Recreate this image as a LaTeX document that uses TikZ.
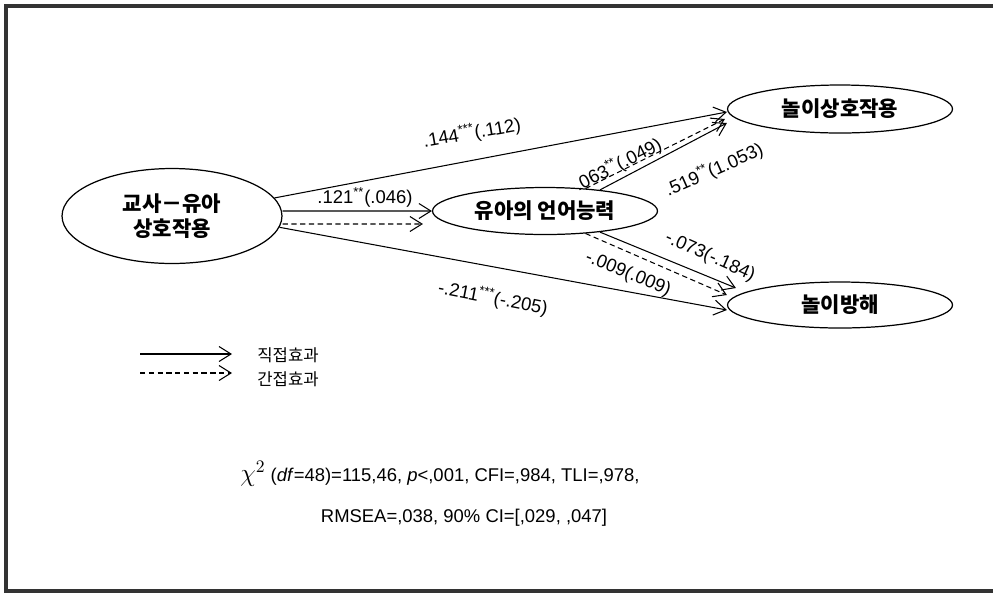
\documentclass[tikz,border=0pt]{standalone}
\usepackage{fontspec}
\setmainfont{Liberation Sans}
\newfontfamily\kor{Noto Sans CJK KR}
\usetikzlibrary{arrows.meta,shapes.geometric}

\tikzset{
  var/.style={ellipse, draw, line width=0.7pt, inner sep=0pt, align=center,
    font=\kor\bfseries\fontsize{12}{14.5}\selectfont},
  coef/.style={font=\fontsize{10.5}{12}\selectfont, inner sep=1pt},
  legend/.style={font=\kor\fontsize{9.5}{11}\selectfont, inner sep=0pt},
  stat/.style={font=\fontsize{10.5}{12}\selectfont, inner sep=1pt},
  direct/.style={-{Straight Barb[length=2.4mm,width=3mm]}, line width=0.6pt},
  indirect/.style={direct, dash pattern=on 3pt off 2pt},
}

\begin{document}
\begin{tikzpicture}[x=0.02cm, y=-0.02cm]
\useasboundingbox (0,0) rectangle (993,593);

% Frame
\draw[line width=2pt, black!80] (993,6) -- (6,6) -- (6,591) -- (993,591);

% Variables
\node[var, minimum width=4.4cm, minimum height=1.9cm] (tea) at (172,216) {교사－유아\\상호작용};
\node[var, minimum width=4.5cm, minimum height=0.94cm] (lang) at (545,211) {유아의 언어능력};
\node[var, minimum width=4.5cm, minimum height=0.96cm] (pint) at (840,109) {놀이상호작용};
\node[var, minimum width=4.5cm, minimum height=0.92cm] (pdis) at (840,305) {놀이방해};

% Paths from teacher-child interaction
\draw[direct] (tea.10) -- ([yshift=-0.06cm]pint.west);
\draw[direct] ([yshift=0.1cm]tea.east) -- (lang.west);
\draw[indirect] ([yshift=-0.16cm]tea.east) -- ([xshift=-0.18cm,yshift=-0.26cm]lang.west);
\draw[direct] (tea.-6) -- ([yshift=-0.1cm]pdis.west);

% Paths from language ability
\draw[indirect] (lang.29) -- ([xshift=-0.04cm,yshift=-0.2cm]pint.west);
\draw[direct] (lang.21) -- ([yshift=-0.28cm]pint.west);
\draw[direct] (lang.-21) -- ([xshift=0.18cm,yshift=0.34cm]pdis.west);
\draw[indirect] (lang.-29) -- ([yshift=0.2cm]pdis.west);

% Coefficients
\node[coef, rotate=10] (c1) at (472,133) {.144\textsuperscript{***}(.112)};
\node[coef] (c2) at (365,197) {.121\textsuperscript{**}(.046)};
\node[coef, rotate=27] (c3) at (618,165) {.063\textsuperscript{**}(.049)};
\node[coef, rotate=24] (c4) at (714,170) {.519\textsuperscript{**}(1.053)};
\node[coef, rotate=-24] (c5) at (710,257) {-.073(-.184)};
\node[coef, rotate=-22] (c6) at (628,274) {-.009(.009)};
\node[coef, rotate=-11] (c7) at (493,298) {-.211\textsuperscript{***}(-.205)};

% Legend
\coordinate (l1a) at (140,354);
\coordinate (l1b) at (232,354);
\coordinate (l2a) at (140,373);
\coordinate (l2b) at (232,373);
\draw[direct] (l1a) -- (l1b);
\draw[indirect] (l2a) -- (l2b);
\node[legend, anchor=west] (ldir) at (257,355) {직접효과};
\node[legend, anchor=west] (lind) at (257,379) {간접효과};

% Fit indices
\node[stat] (fit1) at (440,474) {{\Large$\chi^{2}$} (\textit{df}=48)=115,46, \textit{p}<,001, CFI=,984, TLI=,978,};
\node[stat] (fit2) at (464,518) {RMSEA=,038, 90\% CI=[,029, ,047]};
\end{tikzpicture}
\end{document}
